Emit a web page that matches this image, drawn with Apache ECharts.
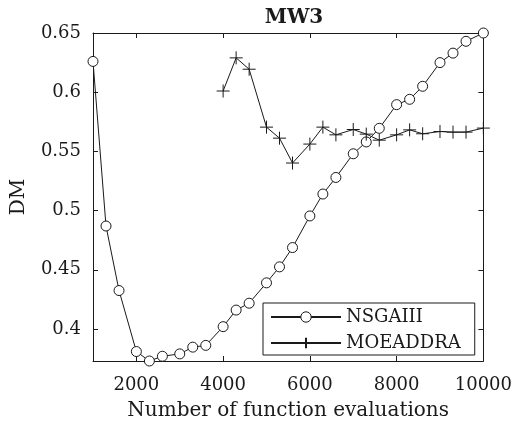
<!DOCTYPE html>
<html>
<head>
<meta charset="utf-8">
<script src="https://cdn.jsdelivr.net/npm/echarts@6/dist/echarts.min.js"></script>
<style>
  html, body { margin: 0; padding: 0; background: #fff; }
  #chart { width: 515px; height: 429px; }
</style>
</head>
<body>
<div id="chart"></div>
<script>
// Function evaluations
const evals = [1000, 1300, 1600, 2000, 2300, 2600, 3000, 3300, 3600, 4000, 4300, 4600, 5000, 5300,
    5600, 6000, 6300, 6600, 7000, 7300, 7600, 8000, 8300, 8600, 9000, 9300, 9600, 10000];
const nsga3 = [0.626, 0.487, 0.4325, 0.381, 0.373, 0.377, 0.379, 0.3847, 0.3862, 0.402, 0.416, 0.4218,
    0.439, 0.4525, 0.4688, 0.4955, 0.514, 0.528, 0.548, 0.558, 0.5695, 0.5895, 0.594, 0.605, 0.625,
    0.633, 0.643, 0.65];
// MOEADDRA starts at 4000 evaluations
const moeaddraEvals = [4000, 4300, 4600, 5000, 5300, 5600, 6000, 6300, 6600, 7000, 7300, 7600, 8000,
    8300, 8600, 9000, 9300, 9600, 10000];
const moeaddra = [0.601, 0.629, 0.6194, 0.5705, 0.5612, 0.5402, 0.5562, 0.5705, 0.564, 0.5685, 0.5646,
    0.5595, 0.564, 0.5682, 0.5649, 0.5668, 0.5663, 0.5663, 0.5697];
const xTicks = [2000, 4000, 6000, 8000, 10000];
const yTicks = [0.4, 0.45, 0.5, 0.55, 0.6, 0.65];

const FONT = 'DejaVu Serif';
const INK = '#1a1a1a';
const PLUS = 'path://M0,-1L0,1M-1,0L1,0';

let chart = echarts.init(document.getElementById('chart'));

function xAxisOpt(pos, labels) {
    return {
        type: 'value',
        position: pos,
        min: 1000,
        max: 10000,
        axisLine: { show: true, onZero: false, lineStyle: { color: INK, width: 1 } },
        axisTick: { show: true, inside: true, length: 5, customValues: xTicks, lineStyle: { color: INK } },
        axisLabel: {
            show: labels,
            customValues: xTicks,
            margin: 15,
            color: INK,
            fontFamily: FONT,
            fontSize: 18,
            formatter: function (v) { return String(v); }
        },
        splitLine: { show: false },
        name: labels ? 'Number of function evaluations' : '',
        nameLocation: 'middle',
        nameGap: 40,
        nameTextStyle: { color: INK, fontFamily: FONT, fontSize: 20 }
    };
}

function yAxisOpt(pos, labels) {
    return {
        type: 'value',
        position: pos,
        min: 0.373,
        max: 0.65,
        axisLine: { show: true, onZero: false, lineStyle: { color: INK, width: 1 } },
        axisTick: { show: true, inside: true, length: 5, customValues: yTicks, lineStyle: { color: INK } },
        axisLabel: {
            show: labels,
            customValues: yTicks,
            margin: 12,
            color: INK,
            fontFamily: FONT,
            fontSize: 18,
            formatter: function (v) { return String(+v.toFixed(2)); }
        },
        splitLine: { show: false },
        name: labels ? 'DM' : '',
        nameLocation: 'middle',
        nameGap: 64,
        nameTextStyle: { color: INK, fontFamily: FONT, fontSize: 20 }
    };
}

let option = {
    backgroundColor: '#fff',
    animation: false,
    title: {
        text: 'MW3',
        left: 289,
        top: 3,
        textAlign: 'center',
        textStyle: { color: INK, fontFamily: FONT, fontSize: 20, fontWeight: 'bold' }
    },
    grid: { left: 93, right: 31, top: 33, bottom: 68, containLabel: false },
    xAxis: [xAxisOpt('bottom', true), xAxisOpt('top', false)],
    yAxis: [yAxisOpt('left', true), yAxisOpt('right', false)],
    legend: {
        orient: 'vertical',
        left: 263,
        top: 303,
        padding: [5, 14, 3, 7],
        itemGap: 8,
        itemWidth: 70,
        itemHeight: 13,
        backgroundColor: '#fff',
        borderColor: INK,
        borderWidth: 1,
        borderRadius: 0,
        textStyle: { color: INK, fontFamily: FONT, fontSize: 18, lineHeight: 16 },
        data: [
            { name: 'NSGAIII', itemStyle: { borderWidth: 1 } },
            { name: 'MOEADDRA' }
        ]
    },
    series: [
        {
            name: 'NSGAIII',
            type: 'line',
            clip: false,
            data: evals.map((x, i) => [x, nsga3[i]]),
            symbol: 'circle',
            symbolSize: 10,
            lineStyle: { color: INK, width: 1 },
            itemStyle: { color: '#fff', borderColor: INK, borderWidth: 1 }
        },
        {
            name: 'MOEADDRA',
            type: 'line',
            clip: false,
            data: moeaddraEvals.map((x, i) => [x, moeaddra[i]]),
            symbol: PLUS,
            symbolSize: 13,
            lineStyle: { color: INK, width: 1 },
            itemStyle: { color: INK, borderColor: INK, borderWidth: 1 }
        }
    ]
};

chart.setOption(option);

window.addEventListener('resize', function () {
    chart.resize();
});
</script>
</body>
</html>
